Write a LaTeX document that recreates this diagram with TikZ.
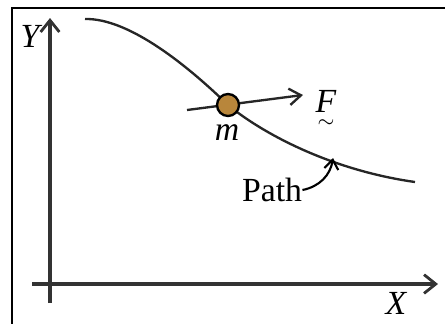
\documentclass[tikz,border=0pt]{standalone}
\usepackage{fontspec}
\setmainfont{Liberation Serif}
\usetikzlibrary{arrows.meta}
\definecolor{massbrown}{HTML}{B8863B}
\tikzset{
    axis/.style={line width=1.3pt, draw=black!80, -{Straight Barb[length=5pt,width=8pt,line width=1.2pt]}},
    pathline/.style={line width=1pt, draw=black!85},
    label/.style={font=\Large\itshape, inner sep=0pt},
}
\begin{document}
\begin{tikzpicture}[x=0.015cm, y=-0.015cm]
        \useasboundingbox (0,0) rectangle (445,324);
        % frame
        \draw [line width=1pt] (445,8) -- (12,8) -- (12,324);
        % axes
        \coordinate (yfoot) at (50,303);\coordinate (ytip) at (50,18);
        \coordinate (xfoot) at (32,284);\coordinate (xtip) at (438,284);
        \draw [axis] (yfoot) -- (ytip);
        \draw [axis] (xfoot) -- (xtip);
        \node [label] (ylab) at (30,36) {Y};
        \node [label] (xlab) at (396,303) {X};
        % path of the mass
        \draw [pathline] (85,19) .. controls (130,18) and (190,68) .. (228,105) .. controls (262,133) and (330,170) .. (415,182);
        % force
        \coordinate (ftail) at (187,110);\coordinate (fhead) at (303,95);
        \draw [pathline, -{Straight Barb[length=5pt,width=7pt,line width=1pt]}] (ftail) -- (fhead);
        \node [circle, draw=black, line width=1pt, fill=massbrown, inner sep=0pt, minimum size=0.33cm] (mass) at (228,105) {};
        % lecter
        \node [label] (mlab) at (227,133) {m};
        \node [label, align=center] (flab) at (326,109) {F\\[-1.8ex]{\normalfont\small$\sim$}};
        \node [font=\Large, inner sep=0pt] (pathlab) at (272,190) {Path};
        \coordinate (ptip) at (333,158);
        \draw [line width=0.9pt, -{Straight Barb[length=4pt,width=6pt,line width=0.9pt]}] (pathlab.east) to [bend right=35] (ptip);
    \end{tikzpicture}
\end{document}
